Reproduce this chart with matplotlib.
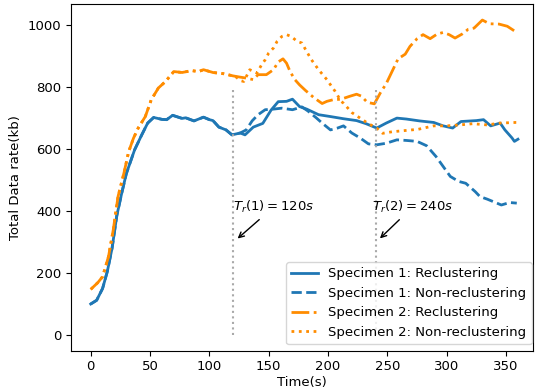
import matplotlib
matplotlib.use('Agg')
import matplotlib.pyplot as plt

plt.rcParams['font.family'] = 'DejaVu Sans'

# Specimen 1, reclustering
S1_RE_X = [0, 5, 10, 14, 18, 22, 26, 30, 37, 43, 48, 53, 60, 64, 69, 77, 80, 87, 95, 100,
           103, 108, 114, 119, 126, 130, 137, 145, 152, 158, 165, 170, 176, 182, 192, 202,
           213, 224, 232, 241, 249, 258, 266, 277, 289, 297, 305, 312, 325, 331, 337, 345,
           349, 355, 357, 360]
S1_RE_Y = [100, 112, 150, 205, 280, 385, 455, 520, 597, 645, 683, 701, 695, 694, 708, 698, 700,
           690, 702, 694, 691, 670, 661, 645, 651, 645, 670, 682, 725, 752, 753, 760, 736, 728,
           710, 704, 697, 691, 681, 667, 683, 699, 696, 690, 685, 674, 667, 688, 691, 694, 674,
           683, 661, 635, 624, 631]

# Specimen 1, non-reclustering (same as above up to t=126)
S1_NR_X = S1_RE_X[:25] + [131, 136, 141, 147, 154, 161, 170, 178, 183, 190, 195, 202, 208,
                          213, 220, 227, 234, 241, 249, 258, 266, 275, 283, 291, 297, 303,
                          310, 316, 324, 328, 334, 341, 346, 353, 359]
S1_NR_Y = S1_RE_Y[:25] + [661, 690, 710, 726, 728, 731, 726, 735, 722, 700, 683, 661, 667,
                          674, 651, 635, 616, 613, 618, 629, 627, 624, 610, 575, 543, 511,
                          495, 489, 462, 446, 438, 427, 419, 427, 425]

# Specimen 2, reclustering
S2_RE_X = [0, 6, 10, 15, 19, 23, 28, 32, 36, 40, 46, 51, 57, 63, 70, 77, 85, 91, 95, 103,
           112, 120, 126, 131, 137, 141, 148, 154, 158, 162, 165, 168, 172, 176, 181, 188,
           195, 199, 204, 211, 218, 224, 228, 233, 239, 244, 249, 254, 259, 265, 269, 275,
           280, 286, 292, 297, 302, 307, 313, 318, 323, 330, 336, 344, 351, 357, 360]
S2_RE_Y = [147, 169, 188, 253, 339, 446, 522, 591, 634, 667, 704, 758, 796, 817, 849, 846,
           852, 849, 855, 846, 842, 835, 831, 828, 823, 839, 839, 855, 880, 890, 876, 849,
           823, 806, 788, 765, 746, 753, 758, 760, 769, 776, 770, 750, 745, 780, 810, 850,
           890, 905, 930, 955, 968, 955, 970, 975, 968, 957, 970, 985, 989, 1015, 1003, 1002,
           995, 980, 978]

# Specimen 2, non-reclustering (same as above up to t=120)
S2_NR_X = S2_RE_X[:22] + [122, 126, 129, 134, 140, 144, 147, 150, 154, 157, 161, 165, 169,
                          174, 178, 181, 186, 192, 199, 203, 206, 211, 213, 220, 227, 234,
                          241, 246, 254, 265, 276, 289, 300, 311, 322, 334, 345, 358, 360]
S2_NR_Y = S2_RE_Y[:22] + [833, 820, 817, 855, 844, 871, 887, 909, 925, 946, 962, 968, 962,
                          946, 941, 920, 887, 855, 823, 801, 785, 753, 747, 717, 699, 681,
                          667, 650, 655, 659, 663, 674, 674, 677, 681, 677, 683, 685, 685]

LABELS = ['Specimen 1: Reclustering', 'Specimen 1: Non-reclustering',
          'Specimen 2: Reclustering', 'Specimen 2: Non-reclustering']
T_RECLUSTER = [120, 240]

BLUE = '#1f77b4'
ORANGE = '#ff8c00'

fig = plt.figure(figsize=(5.36, 3.91), dpi=100)
ax = fig.add_axes([0.1325, 0.103, 0.8613, 0.887])

ax.plot(S1_RE_X, S1_RE_Y, '-', color=BLUE, lw=2, label=LABELS[0])
ax.plot(S1_NR_X, S1_NR_Y, '--', color=BLUE, lw=2, label=LABELS[1])
ax.plot(S2_RE_X, S2_RE_Y, '-.', color=ORANGE, lw=2, label=LABELS[2])
ax.plot(S2_NR_X, S2_NR_Y, ':', color=ORANGE, lw=2, label=LABELS[3])

for t in T_RECLUSTER:
    ax.vlines(t, 0, 800, colors='darkgray', linestyles=':', lw=1.5)

ax.annotate(r'$T_r(1) = 120s$', xy=(122, 305), xytext=(120, 400),
            fontsize=9.5, arrowprops=dict(arrowstyle='->', color='black'))
ax.annotate(r'$T_r(2) = 240s$', xy=(242, 305), xytext=(237, 400),
            fontsize=9.5, arrowprops=dict(arrowstyle='->', color='black'))

ax.set_xlim(-16.6, 372.4)
ax.set_ylim(-50.6, 1067)
ax.set_xlabel('Time(s)', fontsize=9.5, labelpad=2)
ax.set_ylabel('Total Data rate(kb)', fontsize=9.5)
ax.tick_params(labelsize=9.5)
ax.legend(loc='lower right', bbox_to_anchor=(0.998, 0.0185), borderaxespad=0,
          fontsize=9.5)

fig.savefig('out.png', dpi=100)
